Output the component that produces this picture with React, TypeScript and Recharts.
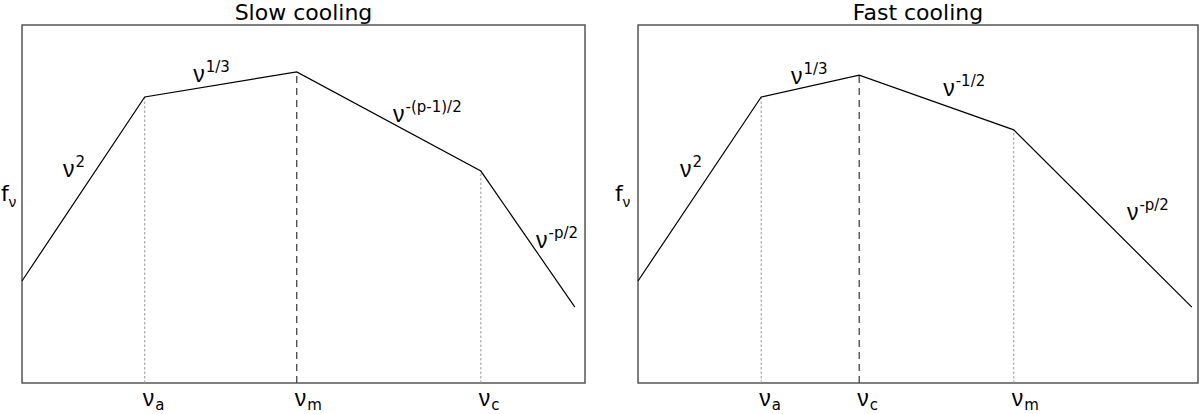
import React from "react";
import { LineChart, Line, XAxis, YAxis, ReferenceLine, ReferenceArea, ReferenceDot } from "recharts";

const FONT = "'DejaVu Sans', sans-serif";
const NU_FONT = "'Liberation Sans', 'DejaVu Sans', sans-serif";

// log nu / log f in plot units (0..100)
const slowNu = [0, 21.8, 48.8, 81.5, 98.2];
const slowFlux = [28.5, 79.9, 86.9, 59.2, 21.2];
const slowBreaks = ["a", "m", "c"];
const slowSlopes = ["2", "1/3", "-(p-1)/2", "-p/2"];
const slowLabelNu = [7.3, 30.4, 65.9, 91.3];
const slowLabelF = [57.5, 84.1, 72.9, 37.7];

const fastNu = [0, 22.0, 39.5, 67.1, 98.9];
const fastFlux = [28.5, 79.9, 86.0, 70.7, 21.2];
const fastBreaks = ["a", "c", "m"];
const fastSlopes = ["2", "1/3", "-1/2", "-p/2"];
const fastLabelNu = [7.5, 27.3, 54.5, 87.3];
const fastLabelF = [57.5, 83.5, 80.2, 45.5];

function PowerLaw({ x, y, sup }: { x: number; y: number; sup: string }) {
    return (
        <text x={x} y={y} fontFamily={FONT} fontSize={22} fill="#000">
            <tspan fontFamily={NU_FONT} fontSize={23}>ν</tspan>
            <tspan fontSize={15} dy={-10} dx={1}>{sup}</tspan>
        </text>
    );
}

interface PanelProps {
    title: string;
    nu: number[];
    flux: number[];
    breaks: string[];
    slopes: string[];
    labelNu: number[];
    labelF: number[];
    yLabelF: number;
    yLabelGap: number;
    left: number;
    marginLeft: number;
    marginRight: number;
}

function Panel({ title, nu, flux, breaks, slopes, labelNu, labelF, yLabelF, yLabelGap, left, marginLeft, marginRight }: PanelProps) {
    const data = nu.map((x, i) => ({ nu: x, f: flux[i] }));
    const breakNu = nu.slice(1, 4);
    const peak = flux.indexOf(Math.max(...flux));
    const plotCenter = marginLeft + (600 - marginLeft - marginRight) / 2;

    return (
        <div style={{ position: "absolute", left, top: 0, width: 600, height: 414 }}>
            <div style={{
                position: "absolute", top: 0, left: plotCenter - 150, width: 300, textAlign: "center",
                fontFamily: FONT, fontSize: 22, lineHeight: "26px", color: "#000"
            }}>{title}</div>
            <LineChart width={600} height={414} data={data} margin={{ top: 25, right: marginRight, bottom: 0, left: marginLeft }}>
                <XAxis
                    dataKey="nu"
                    type="number"
                    domain={[0, 100]}
                    ticks={breakNu}
                    axisLine={false}
                    tickLine={false}
                    height={31}
                    tick={(p: any) => {
                        const name = breaks[breakNu.indexOf(p.payload.value)];
                        return (
                            <text x={p.x - 2} y={p.y + 15} fontFamily={FONT} fontSize={22} fill="#000">
                                <tspan fontFamily={NU_FONT} fontSize={23}>ν</tspan>
                                <tspan fontSize={15} dy={4} dx={1}>{name}</tspan>
                            </text>
                        );
                    }}
                />
                <YAxis type="number" domain={[0, 100]} hide />
                <ReferenceArea x1={0} x2={100} y1={0} y2={100} fill="none" fillOpacity={0} stroke="#555" strokeWidth={1.5} />
                {breakNu.map((x, i) => {
                    const isPeak = i + 1 === peak;
                    return (
                        <ReferenceLine
                            key={"b" + i}
                            segment={[{ x, y: 0 }, { x, y: flux[i + 1] }]}
                            stroke={isPeak ? "#444" : "#999"}
                            strokeWidth={isPeak ? 1.3 : 1}
                            strokeDasharray={isPeak ? "7 5" : "2.5 2"}
                        />
                    );
                })}
                <Line type="linear" dataKey="f" stroke="#000" strokeWidth={1.2} dot={false} isAnimationActive={false} />
                {slopes.map((s, i) => (
                    <ReferenceDot
                        key={"s" + i}
                        x={labelNu[i]}
                        y={labelF[i]}
                        r={0}
                        shape={(p: any) => <PowerLaw x={p.cx} y={p.cy} sup={s} />}
                    />
                ))}
                <ReferenceDot
                    x={0}
                    y={yLabelF}
                    r={0}
                    shape={(p: any) => (
                        <text x={p.cx - yLabelGap} y={p.cy} fontFamily={FONT} fontSize={22} fill="#000">
                            <tspan>f</tspan>
                            <tspan fontFamily={NU_FONT} fontSize={15} dy={6}>ν</tspan>
                        </text>
                    )}
                />
            </LineChart>
        </div>
    );
}

export default function App() {
    return (
        <div style={{ position: "absolute", left: 0, top: 0, width: 1200, height: 414, background: "#fff" }}>
            <Panel title="Slow cooling" nu={slowNu} flux={slowFlux} breaks={slowBreaks} slopes={slowSlopes}
                labelNu={slowLabelNu} labelF={slowLabelF} yLabelF={50.8} yLabelGap={21} left={0} marginLeft={22} marginRight={15} />
            <Panel title="Fast cooling" nu={fastNu} flux={fastFlux} breaks={fastBreaks} slopes={fastSlopes}
                labelNu={fastLabelNu} labelF={fastLabelF} yLabelF={50.8} yLabelGap={23} left={600} marginLeft={38} marginRight={2} />
        </div>
    );
}
